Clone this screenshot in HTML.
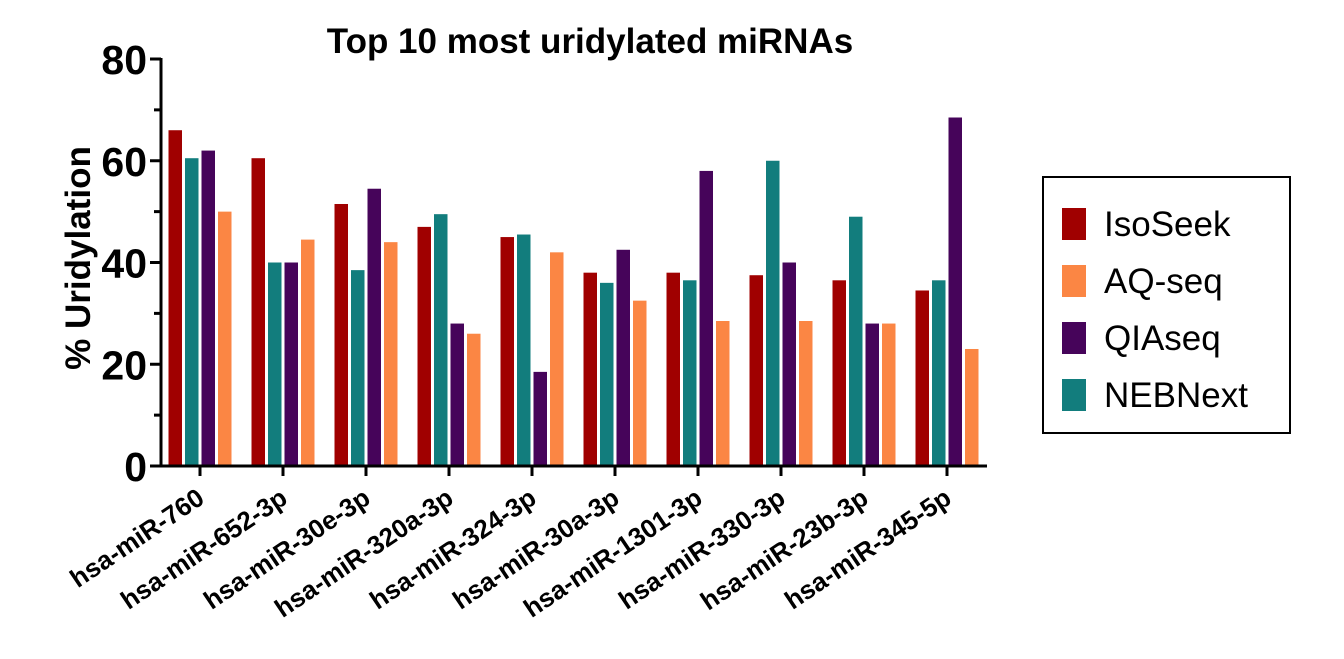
<!DOCTYPE html>
<html><head><meta charset="utf-8"><style>
body{margin:0;background:#fff;}
svg{display:block;font-family:"Liberation Sans",Arial,sans-serif;}
</style></head><body>
<svg id="chart" width="1344" height="659">
<text x="590" y="53" text-anchor="middle" font-size="35" font-weight="bold">Top 10 most uridylated miRNAs</text>
<text transform="translate(90,258) rotate(-90)" text-anchor="middle" font-size="35" font-weight="bold">% Uridylation</text>
<g id="bars"></g><g id="axes"></g>
<g>
<rect x="1043" y="177" width="247" height="256" fill="none" stroke="#000" stroke-width="2"/>
<g id="legend"></g>
</g>
</svg>
<script>
const categories=["hsa-miR-760","hsa-miR-652-3p","hsa-miR-30e-3p","hsa-miR-320a-3p","hsa-miR-324-3p","hsa-miR-30a-3p","hsa-miR-1301-3p","hsa-miR-330-3p","hsa-miR-23b-3p","hsa-miR-345-5p"];
const isoSeek=[66,60.5,51.5,47,45,38,38,37.5,36.5,34.5];
const nebNext=[60.5,40,38.5,49.5,45.5,36,36.5,60,49,36.5];
const qiaSeq=[62,40,54.5,28,18.5,42.5,58,40,28,68.5];
const aqSeq=[50,44.5,44,26,42,32.5,28.5,28.5,28,23];
const yTicks=[0,20,40,60,80];
const legendLabels=["IsoSeek","AQ-seq","QIAseq","NEBNext"];
const NS="http://www.w3.org/2000/svg";
const y0=466,y80=59,xStart=200,gStep=83;
const yS=v=>y0-(v/80)*(y0-y80);
const xS=i=>xStart+i*gStep;
function mk(t,a,p){const e=document.createElementNS(NS,t);for(const k in a)e.setAttribute(k,a[k]);p.appendChild(e);return e;}
const series=[{d:isoSeek,c:"#a00000",n:"isoseek"},{d:nebNext,c:"#127d7d",n:"nebnext"},{d:qiaSeq,c:"#46045a",n:"qiaseq"},{d:aqSeq,c:"#fb8644",n:"aqseq"}];
const bars=document.getElementById("bars");
categories.forEach((c,i)=>{series.forEach((s,j)=>{
 const x=xS(i)-31.5+j*16.5;
 const r=mk("rect",{x:x,y:yS(s.d[i]),width:13.5,height:y0-yS(s.d[i]),fill:s.c},bars);
 
 
});});
const ax=document.getElementById("axes");
let l=mk("line",{x1:161,y1:y80-1,x2:161,y2:y0+1,stroke:"#000","stroke-width":3},ax);

l=mk("line",{x1:160,y1:y0,x2:987,y2:y0,stroke:"#000","stroke-width":3},ax);

for(let v=0;v<=80;v+=10){mk("line",{x1:v%20?154:150,y1:yS(v),x2:161,y2:yS(v),stroke:"#000","stroke-width":3},ax);}
yTicks.forEach(v=>{const t=mk("text",{x:147,y:yS(v)+15,"text-anchor":"end","font-size":41,"font-weight":"bold"},ax);t.textContent=v;
 });
categories.forEach((c,i)=>{const x=xS(i);
 mk("line",{x1:x,y1:y0,x2:x,y2:y0+10,stroke:"#000","stroke-width":3},ax);
 const t=mk("text",{transform:`translate(${x+6},${y0+36}) rotate(-34)`,"text-anchor":"end","font-size":26,"font-weight":"bold"},ax);
 t.textContent=c;});
const lg=document.getElementById("legend");
const lc=["#a00000","#fb8644","#46045a","#127d7d"];
legendLabels.forEach((n,i)=>{const y=224+i*57;
 const r=mk("rect",{x:1062,y:y-16,width:24,height:32,fill:lc[i]},lg);
 
 const t=mk("text",{x:1104,y:y+12,"font-size":35},lg);t.textContent=n;
 });
</script>
</body></html>
